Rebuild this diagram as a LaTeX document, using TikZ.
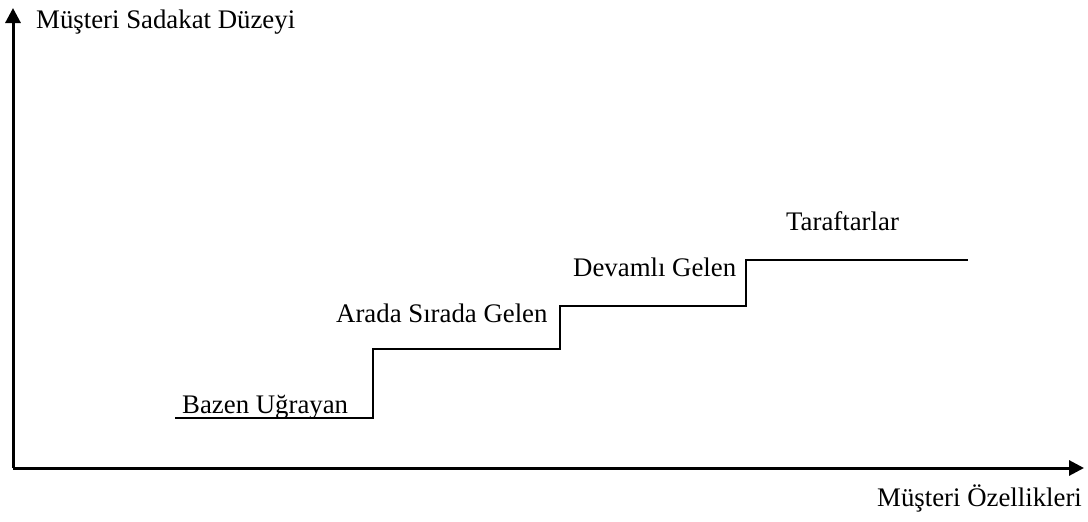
\documentclass[tikz,border=0pt]{standalone}
\usepackage{fontspec}
\setmainfont{Liberation Serif}
\usetikzlibrary{arrows.meta}
\begin{document}
\begin{tikzpicture}[x=1pt,y=-1pt,
  axis/.style={line width=3pt,-{Triangle[length=15pt,width=15pt]}},
  stair/.style={line width=2.2pt},
  lbl/.style={anchor=base west,inner sep=0pt,font=\fontsize{26.8}{32}\selectfont}]
\useasboundingbox (0,0) rectangle (1088,522);
% axes
\coordinate (o) at (13,468);
\coordinate (ytip) at (13,8);
\coordinate (xtip) at (1084,468);
\draw[axis] (o) -- (ytip);
\draw[axis] (o) -- (xtip);
\node[lbl] (ylab) at (36,28) {Müşteri Sadakat Düzeyi};
\node[lbl] (xlab) at (877,506) {Müşteri Özellikleri};
% stairs
\coordinate (s0) at (175,418);
\coordinate (s1) at (373,418);
\coordinate (s2) at (373,349);
\coordinate (s3) at (560,349);
\coordinate (s4) at (560,306);
\coordinate (s5) at (746,306);
\coordinate (s6) at (746,260);
\coordinate (s7) at (968,260);
\draw[stair] (s0) -- (s1) -- (s2) -- (s3) -- (s4) -- (s5) -- (s6) -- (s7);
\node[lbl] (l1) at (182,413) {Bazen Uğrayan};
\node[lbl] (l2) at (336,322) {Arada Sırada Gelen};
\node[lbl] (l3) at (573,276) {Devamlı Gelen};
\node[lbl] (l4) at (786,230) {Taraftarlar};
\end{tikzpicture}
\end{document}
